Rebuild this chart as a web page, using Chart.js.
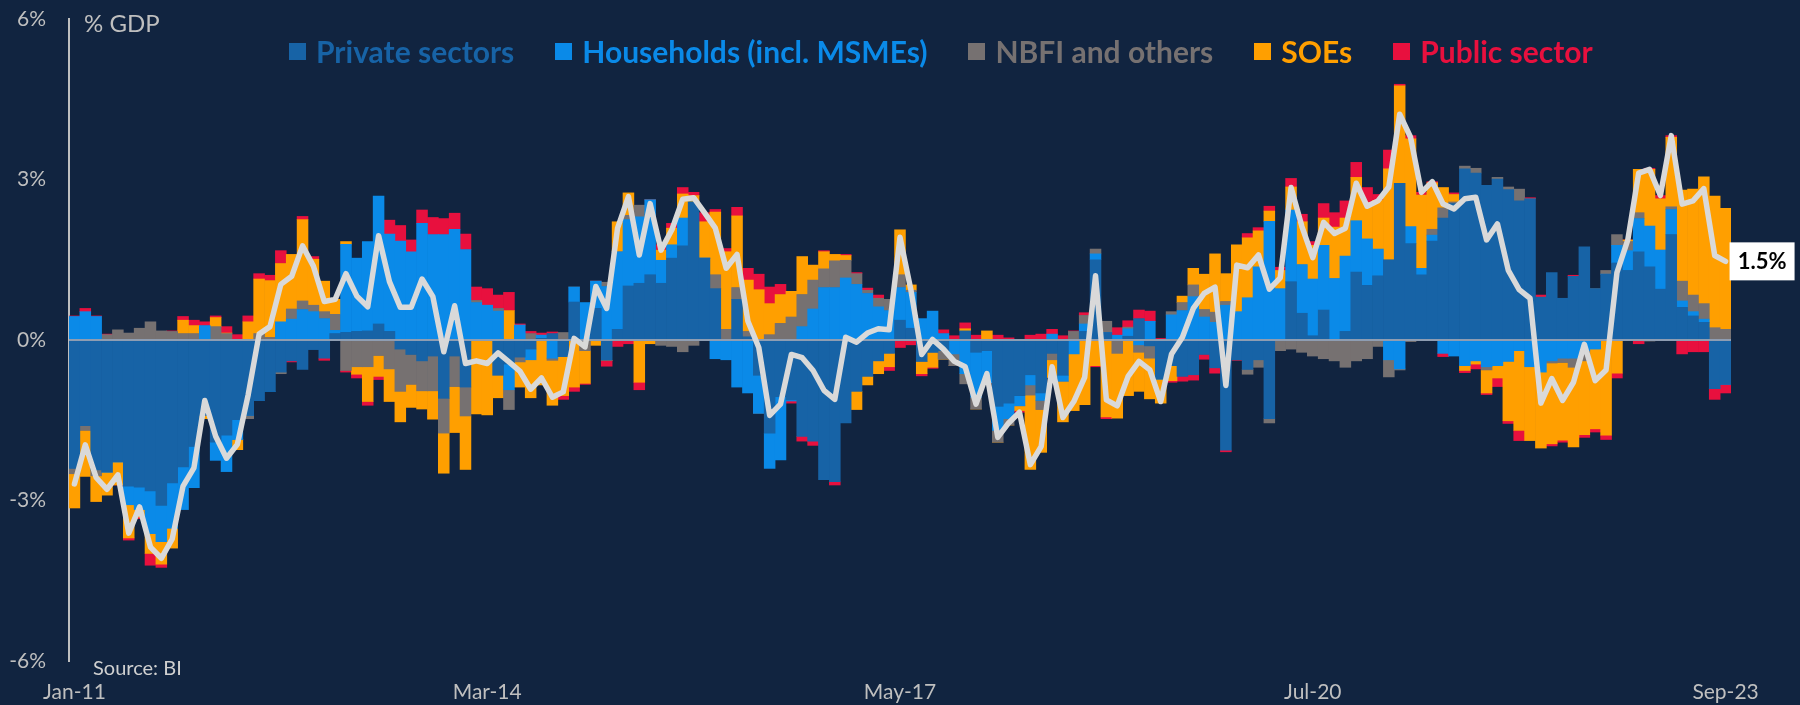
<!DOCTYPE html>
<html>
<head>
<meta charset="utf-8">
<script src="https://cdn.jsdelivr.net/npm/chart.js@4.4.1/dist/chart.umd.min.js"></script>
<style>
  html, body { margin: 0; padding: 0; background: #112440; }
  #wrap { position: relative; width: 1800px; height: 705px; overflow: hidden; background: #112440; font-family: Lato, "Open Sans", sans-serif; }
  #chart { position: absolute; left: 0; top: 0; }
  #unit { position: absolute; left: 84px; top: 11px; font-size: 24px; line-height: 24px; color: #bfbfbf; }
  #source { position: absolute; left: 93px; top: 657px; font-size: 20px; line-height: 20px; color: #d0d0d0; }
  #legend { position: absolute; left: 289px; top: 36px; height: 30px; display: flex; }
  .item { display: flex; align-items: center; height: 30px; margin-right: 41px; font-size: 30px; line-height: 30px; font-weight: bold; white-space: nowrap; }
  .box { width: 17px; height: 17px; margin-right: 10px; }
</style>
</head>
<body>
<div id="wrap">
  <canvas id="chart" width="1800" height="705"></canvas>
  <div id="unit">% GDP</div>
  <div id="legend"></div>
  <div id="source">Source: BI</div>
</div>
<script>

// monthly change by sector, % GDP (Jan-11 .. Sep-23)

const startYear = 11;

const monthNames = ["Jan", "Feb", "Mar", "Apr", "May", "Jun",
  "Jul", "Aug", "Sep", "Oct", "Nov", "Dec"];

const tickLabels = ["Jan-11", "Mar-14", "May-17", "Jul-20", "Sep-23"];

const seriesNames = ["Private sectors", "Households (incl. MSMEs)",
  "NBFI and others", "SOEs", "Public sector"];

const privateSectors = [
  -2.40, -1.60, -2.43, -2.47, -2.28, -2.73, -2.75, -2.82, -3.09, -2.67,
  -2.37, -1.99, -1.41, -1.91, -1.78, -1.49, -1.41, -1.13, -0.96, -0.60,
  -0.39, -0.55, -0.18, -0.34, 0.12, 0.14, 0.16, 0.17, 0.30, 0.16,
  -0.17, -0.27, -0.39, -0.30, -1.09, -0.30, -0.88, 0, 0, -0.66,
  -0.45, -0.32, -0.17, 0.03, 0.12, -0.31, 0.71, 0, 0.59, -0.38,
  0.20, 1.01, 1.06, 1.22, 1.06, 1.53, 1.76, 2.58, 1.53, 0.96,
  0, 0.76, 0.06, -0.66, -1.74, -1.06, -1.12, -1.80, -1.89, -2.61,
  -2.65, -1.55, -0.96, -0.68, -0.39, -0.25, 0.37, 0.22, -0.40, -0.23,
  -0.20, 0, 0.17, -0.23, -0.20, -1.24, -1.18, -1.04, -0.65, -0.99,
  -0.25, -0.66, 0, 0.16, 1.50, 0.14, 0, 0.07, 0.40, -0.11,
  -0.73, -0.48, -0.68, -0.65, -0.27, -0.52, -2.06, -0.37, -0.55, -0.37,
  -1.47, 0, 1.09, 0.50, 0.08, 0.56, 0, 0.16, 1.27, 1.02,
  1.20, 1.50, 2.93, 1.80, 1.22, 1.85, 2.28, 2.55, 3.20, 3.12,
  2.89, 3.01, 2.81, 2.60, 2.64, 0.80, 1.26, 0.78, 1.19, 1.74,
  0.96, 1.23, 1.44, 1.30, 1.65, 1.37, 0.95, 1.97, 0.61, 0.45,
  0.33, -0.91, -0.83
];

const households = [
  0.44, 0.53, 0.44, 0, 0, -0.35, -0.42, -0.80, -0.68, -0.85,
  -0.80, -0.77, 0.27, -0.34, -0.68, -0.37, 0, 0, 0, 0.34,
  0.39, 0.57, 0.53, 0.40, 0.06, 1.65, 1.37, 1.67, 2.39, 1.82,
  1.85, 1.65, 2.18, 1.97, 1.97, 2.07, 1.69, 0.70, 0.65, 0.54,
  -0.48, 0.28, -0.20, 0.06, -0.34, 0, 0.28, 0.70, 0.51, 1.00,
  1.45, 1.24, 1.24, 1.40, 0.43, 0.25, 0.52, 0, 0, -0.35,
  -0.37, -0.88, -0.99, -0.71, -0.66, -1.18, -0.02, 0.25, 0.58, 0.98,
  0.98, 1.16, 1.04, 0.87, 0.62, 0.55, 0.61, 0.67, 0.40, 0.54,
  0.12, -0.26, -0.63, -0.84, -0.60, -0.45, -0.29, -0.19, -0.19, -0.14,
  0.11, -0.11, -0.26, 0.14, 0.11, 0, 0.09, 0.14, -0.09, 0.35,
  0, 0.47, 0.55, 0.81, 0.43, 0.33, 0.65, 0.53, 0.79, 1.37,
  2.22, 0.96, 1.34, 0.91, 1.06, 1.21, 1.15, 1.41, 0.96, 0.87,
  0.50, -0.37, -0.54, 0.32, 0.12, 0.11, -0.25, -0.30, -0.48, -0.39,
  -0.50, -0.48, -0.40, -0.20, -0.50, -0.60, -0.39, -0.34, -0.34, -0.20,
  -0.17, 0, 0.33, 0.37, 0.62, 0.76, 0.73, 0.47, 0.12, 0.08,
  0.06, 0, 0
];

const nbfi = [
  -0.10, -0.09, -0.11, 0.10, 0.19, 0.13, 0.22, 0.34, 0.17, 0.16,
  0.12, 0.12, 0, 0.25, 0.12, 0, -0.06, 0.12, 0.05, -0.03,
  0.19, 0.16, 0.12, 0.13, 0.30, -0.57, -0.50, -0.50, -0.29, -0.54,
  -0.79, -0.56, -0.56, -0.65, -0.65, -0.57, -0.54, 0.04, 0, 0.05,
  -0.37, -0.09, 0.12, 0, -0.04, 0.14, 0, -0.20, 0, 0.08,
  0, 0.08, 0.22, 0, -0.10, -0.12, -0.22, -0.10, 0, 0.26,
  0.20, 0.22, 0.10, 0, 0.10, 0.31, 0.43, 0.60, 0.54, 0.35,
  0.50, 0.33, 0.20, 0.06, 0.16, 0.21, 0.24, 0.04, 0, 0,
  -0.16, -0.22, -0.19, -0.22, 0, -0.22, -0.12, 0, -0.19, -0.17,
  -0.12, 0, 0.16, 0.16, 0.09, 0.21, -0.25, 0.03, -0.14, -0.23,
  0, 0.06, 0.15, 0.22, 0.14, 0.19, 0.07, 0, -0.09, -0.14,
  -0.08, -0.20, -0.17, -0.23, -0.30, -0.35, -0.39, -0.51, -0.39, -0.35,
  -0.12, -0.32, -0.02, -0.03, 0, 0.11, 0.19, 0.03, 0.05, 0.09,
  -0.06, 0.03, 0.05, 0.22, 0, 0, -0.04, -0.08, -0.17, -0.19,
  0, 0.07, 0.20, 0.17, 0.11, -0.02, 0, 0.05, 0.37, 0.31,
  0.29, 0.23, 0.20
];

const soes = [
  -0.64, -0.86, -0.48, -0.43, -0.43, -0.62, -0.14, -0.37, -0.42, -0.37,
  0.25, 0.15, -0.06, 0.17, 0.01, -0.19, 0.34, 1.02, 1.06, 1.09,
  1.02, 1.52, 0.86, 0.57, 0.28, 0.05, -0.14, -0.65, -0.39, -0.61,
  -0.57, -0.43, -0.34, -0.53, -0.75, -0.86, -1.00, -1.38, -1.40, -0.42,
  0.55, -0.47, -0.71, -0.84, -0.84, -0.73, -0.88, -0.61, -0.10, 0,
  0.56, 0.42, -0.79, -0.07, 0.19, 0.31, 0.45, 0.12, 0.68, 1.17,
  1.45, 1.34, 0.96, 0.94, 0.58, 0.54, 0.48, 0.71, 0.28, 0.32,
  0.12, 0.09, -0.34, -0.16, -0.24, -0.25, 0.84, 0.10, -0.23, -0.28,
  0, 0, 0.04, 0, 0.17, 0, 0, -0.09, -1.39, -0.80,
  -0.33, -0.76, -1.06, -1.21, -0.48, -1.44, -1.21, -1.04, -0.73, -0.76,
  -0.45, -0.28, 0.12, 0.31, 0.66, 1.09, 0.52, 1.25, 1.12, 0.67,
  0.19, 0.34, 0.43, 0.80, 0.63, 0.51, 0.96, 0.71, 0.81, 0.68,
  0.91, 1.70, 1.82, 1.64, 1.37, 0.87, 0.38, 0.14, -0.09, -0.06,
  -0.43, -0.23, -1.11, -1.49, -1.38, -1.42, -1.51, -1.45, -1.49, -1.38,
  -1.49, -1.78, -0.62, 0.03, 0.81, 1.06, 0.96, 1.30, 1.70, 1.98,
  2.37, 2.46, 2.26
];

const publicSector = [
  0.01, 0.06, 0.01, 0.01, 0, -0.04, -0.03, -0.22, -0.06, 0.01,
  0.07, 0.10, 0.07, 0.03, 0.12, 0.10, 0.11, 0.10, 0.10, 0.24,
  -0.02, 0.06, 0.05, -0.04, 0, -0.03, -0.07, -0.07, -0.06, 0.26,
  0.29, 0.22, 0.25, 0.32, 0.30, 0.30, 0.29, 0.25, 0.31, 0.25,
  0.34, 0.02, 0.04, 0.04, 0.03, -0.07, -0.08, -0.02, 0, -0.11,
  -0.12, -0.07, -0.14, 0, 0.10, 0.09, 0.12, 0.06, 0.17, 0.05,
  0.06, 0.16, 0.22, 0.29, 0.31, 0.19, -0.04, -0.09, -0.08, 0.02,
  -0.06, 0.02, 0.02, 0.04, 0.06, -0.07, -0.14, -0.09, -0.04, -0.02,
  0.07, 0.08, 0.11, 0.09, 0, 0.09, 0.04, -0.03, 0.09, 0.11,
  0.09, 0.08, 0.01, 0.05, -0.02, -0.03, 0.14, 0.12, 0.16, 0.19,
  0.03, -0.03, -0.09, -0.10, -0.09, -0.10, -0.03, -0.01, 0.08, 0.06,
  0.09, 0.06, 0.16, 0.14, 0.07, 0.27, 0.27, 0.32, 0.28, 0.28,
  0.11, 0.35, 0.03, 0.06, 0.05, 0.02, -0.06, 0.03, -0.04, -0.09,
  -0.03, -0.16, -0.05, -0.19, 0.02, 0.04, -0.04, -0.04, 0.02, -0.05,
  -0.06, -0.08, -0.09, 0, -0.07, 0.02, 0.06, 0.03, -0.26, -0.22,
  -0.22, -0.20, -0.16
];

const seriesColors = ["#1763a6", "#0a8ae8", "#767171", "#ff9f00", "#e8103e"];

// month labels Jan-11, Feb-11, ...

const months = privateSectors.map((v, i) =>
  monthNames[i % 12] + "-" + (startYear + Math.floor(i / 12)));

// total line = sum of the sectors

const sectors = [privateSectors, households, nbfi, soes, publicSector];

const total = months.map((m, i) =>
  sectors.reduce((s, arr) => s + arr[i], 0));

function buildLegend() {

  const legend = document.getElementById("legend");

  seriesNames.forEach((name, i) => {

    const item = document.createElement("div");
    item.className = "item";
    item.style.color = seriesColors[i];

    const box = document.createElement("span");
    box.className = "box";
    box.style.background = seriesColors[i];

    const text = document.createElement("span");
    text.textContent = name;

    item.appendChild(box);
    item.appendChild(text);
    legend.appendChild(item);

  });

}

// zero line, drawn over the bars but under the total line

const zeroLine = {
  id: "zeroLine",
  beforeDatasetDraw(chart, args) {
    if (args.index !== 0) return;
    const { ctx, chartArea, scales } = chart;
    const y = scales.y.getPixelForValue(0);
    ctx.save();
    ctx.strokeStyle = "#8e9db2";
    ctx.lineWidth = 2;
    ctx.beginPath();
    ctx.moveTo(chartArea.left, y);
    ctx.lineTo(chartArea.right, y);
    ctx.stroke();
    ctx.restore();
  }
};

// box with the last value of the total line

const lastLabel = {
  id: "lastLabel",
  afterDatasetsDraw(chart) {
    const meta = chart.getDatasetMeta(0);
    const pt = meta.data[meta.data.length - 1];
    const ctx = chart.ctx;
    const text = total[total.length - 1].toFixed(1) + "%";
    ctx.save();
    ctx.fillStyle = "#ffffff";
    ctx.fillRect(pt.x + 4, pt.y - 19, 65, 38);
    ctx.fillStyle = "#000000";
    ctx.font = "bold 22px Lato";
    ctx.textAlign = "center";
    ctx.textBaseline = "middle";
    ctx.fillText(text, pt.x + 4 + 32.5, pt.y + 1);
    ctx.restore();
  }
};

function createChart() {

  const barSets = sectors.map((arr, i) => ({
    type: "bar",
    label: seriesNames[i],
    data: arr,
    backgroundColor: seriesColors[i],
    borderWidth: 0,
    barPercentage: 1,
    categoryPercentage: 1,
    stack: "sectors",
    order: 1
  }));

  new Chart(

    document.getElementById("chart"),

    {

      type: "bar",

      data: {

        labels: months,

        datasets: [

          {
            type: "line",
            label: "Total",
            data: total,
            borderColor: "#d9d9d9",
            borderWidth: 5.5,
            pointRadius: 0,
            tension: 0,
            borderJoinStyle: "round",
            borderCapStyle: "round",
            stack: "total",
            order: 0
          },

          ...barSets

        ]

      },

      options: {

        responsive: false,
        animation: false,

        layout: {
          padding: { top: 19, right: 69, left: 0, bottom: 0 }
        },

        plugins: {
          legend: { display: false },
          tooltip: { enabled: false }
        },

        scales: {

          x: {
            stacked: true,
            offset: true,
            grid: { display: false, drawTicks: false },
            border: { display: false },
            ticks: {
              autoSkip: false,
              maxRotation: 0,
              minRotation: 0,
              padding: 19,
              color: "#bfbfbf",
              font: { family: "Lato", size: 21 },
              callback: (value, index) =>
                tickLabels.includes(months[index]) ? months[index] : ""
            },
            afterFit: (scale) => { scale.height = 44; }
          },

          y: {
            stacked: true,
            min: -6,
            max: 6,
            grid: { display: false, drawTicks: false },
            border: { display: true, color: "#bfbfbf", width: 2 },
            ticks: {
              stepSize: 3,
              padding: 23,
              color: "#bfbfbf",
              font: { family: "Lato", size: 21 },
              callback: (v) => v + "%"
            },
            afterFit: (scale) => {
              scale.width = 69;
              // tick labels may spill past the plot top/bottom
              scale.paddingTop = 0;
              scale.paddingBottom = 0;
            }
          }

        }

      },

      plugins: [zeroLine, lastLabel]

    }

  );

}

buildLegend();

Promise.all([
  document.fonts.load("21px Lato"),
  document.fonts.load("bold 22px Lato")
]).catch(() => {}).then(createChart);

</script>
</body>
</html>
